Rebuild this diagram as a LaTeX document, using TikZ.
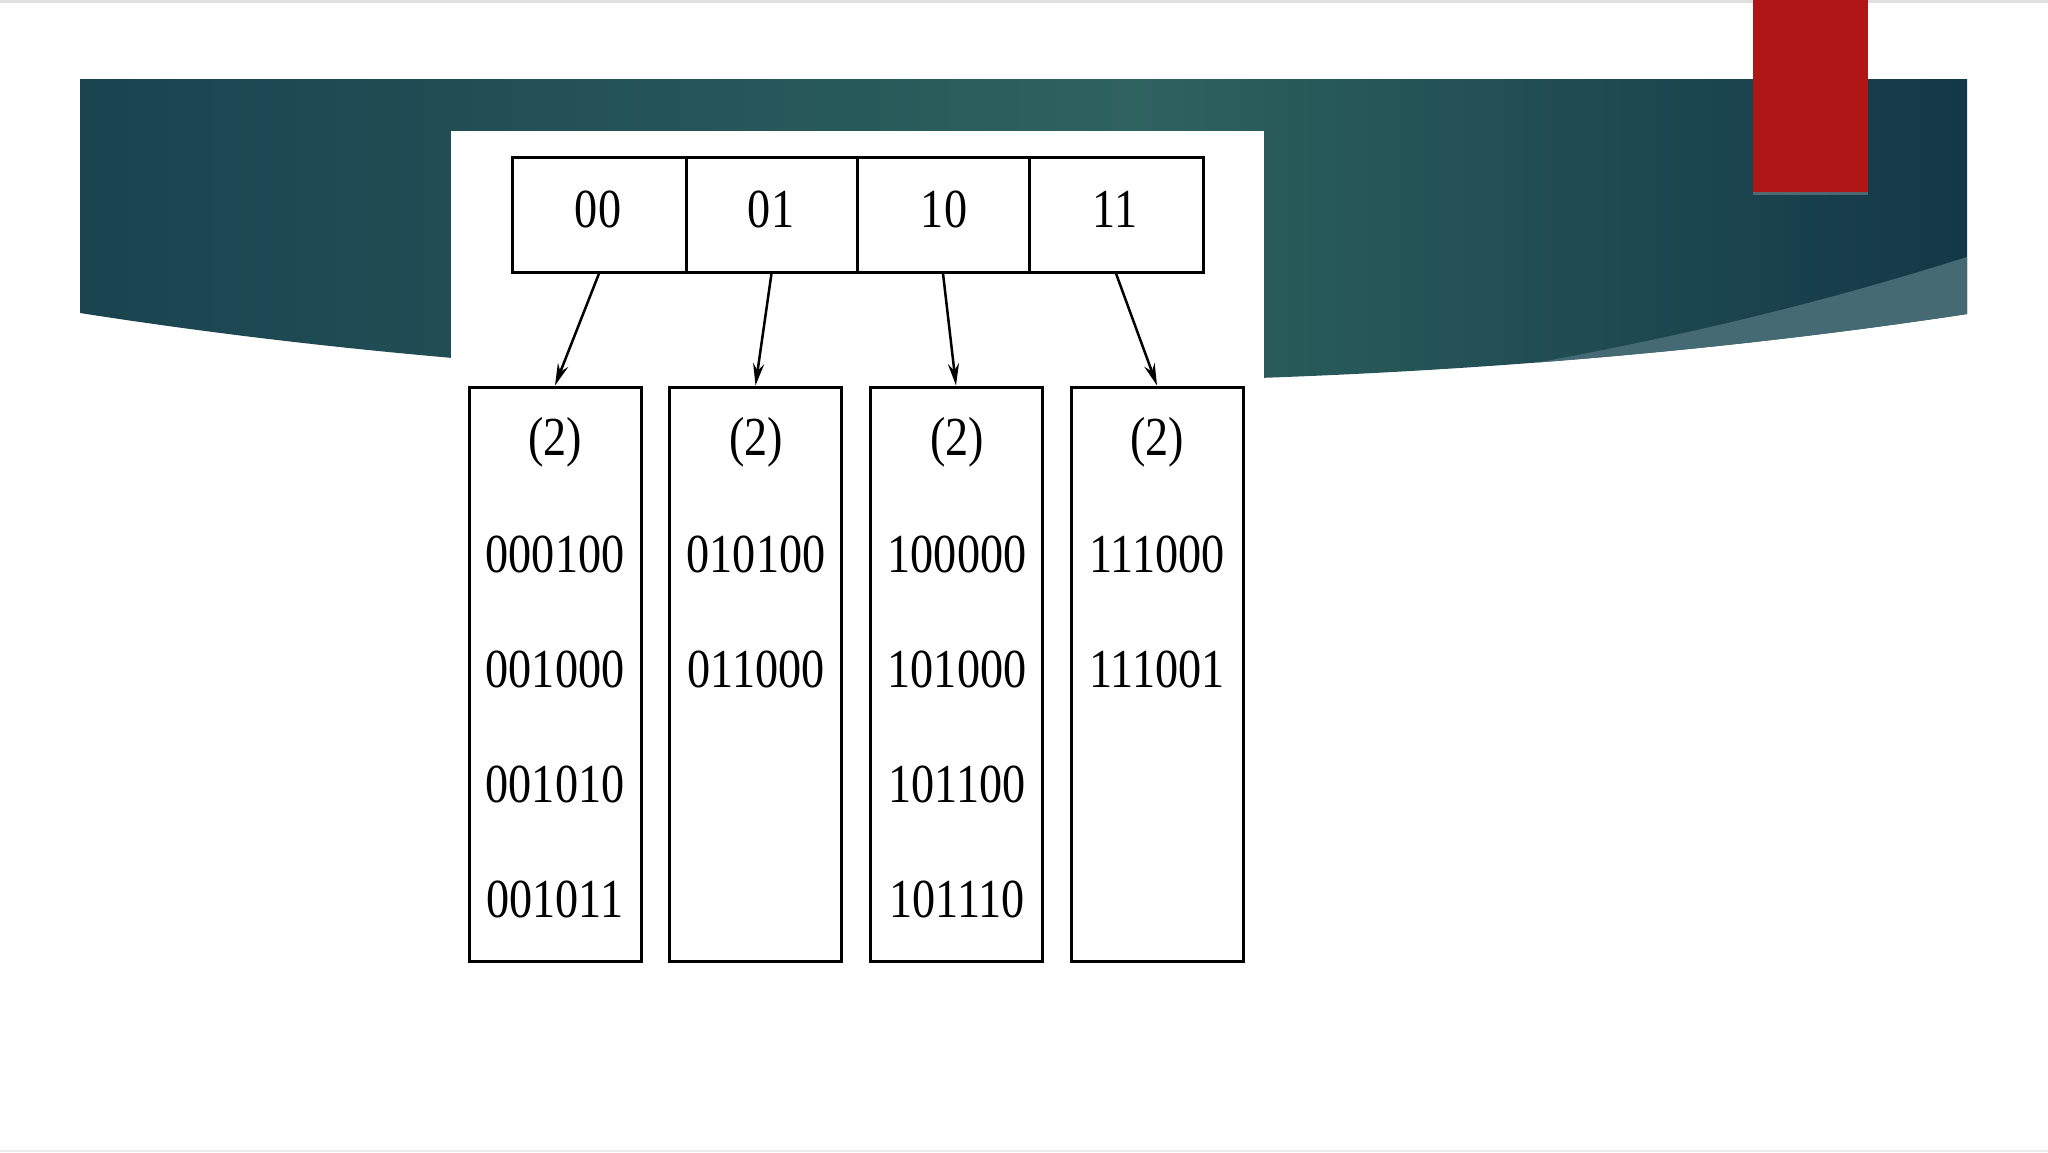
\documentclass[tikz,border=0pt]{standalone}
\usepackage{fontspec}
\setmainfont{Liberation Serif}
\newfontfamily\digfont[FakeStretch=0.84]{Liberation Serif}
\usetikzlibrary{arrows.meta}
\definecolor{bnL}{HTML}{1A4350}
\definecolor{bnM}{HTML}{2E625F}
\definecolor{bnR}{HTML}{133847}
\definecolor{bnBand}{HTML}{456A74}
\definecolor{redtab}{HTML}{B01616}
\pgfdeclarehorizontalshading{bannershade}{100bp}{color(0bp)=(bnL); color(25bp)=(bnL); color(53bp)=(bnM); color(75bp)=(bnR); color(100bp)=(bnR)}
\tikzset{
  cellbox/.style={draw=black, line width=3pt, minimum height=115pt, inner sep=0pt},
  bucketbox/.style={draw=black, line width=3pt, minimum width=172pt, minimum height=574pt, inner sep=0pt},
  entry/.style={inner sep=0pt, font=\digfont\fontsize{55}{60}\selectfont},
  ptr/.style={line width=2.5pt, -{Stealth[length=22pt,width=11pt]}}
}
\begin{document}
\begin{tikzpicture}[x=1pt,y=-1pt]
\useasboundingbox (0,0) rectangle (2048,1152);
\fill[white] (0,0) rectangle (2048,1152);
\fill[black!12] (0,0) rectangle (2048,2.5);
\fill[black!8] (0,1149.5) rectangle (2048,1152);
% banner
\begin{scope}
  \path[clip] (80,79) -- (1967,79) -- (1967,314) .. controls (1400,400) and (700,410) .. (80,313) -- cycle;
  \shade[shading=bannershade] (80,79) rectangle (1967,420);
  \fill[bnBand] (1967,257) .. controls (1760,322) and (1580,360) .. (1280,405) -- (2000,420) -- (2000,257) -- cycle;
\end{scope}
% red tab
\fill[black!35, opacity=0.4] (1753,0) rectangle (1868,195);
\fill[redtab] (1753,0) rectangle (1868,192);
% white picture area
\fill[white] (451,131) rectangle (1264,1000);
% directory cells
\node[cellbox, minimum width=174pt] (c1) at (599,214.5) {};
\node[cellbox, minimum width=171pt] (c2) at (771.5,214.5) {};
\node[cellbox, minimum width=172pt] (c3) at (943,214.5) {};
\node[cellbox, minimum width=174pt] (c4) at (1116,214.5) {};
\node[entry] (l1) at (598,209) {00};
\node[entry] (l2) at (771,209) {01};
\node[entry] (l3) at (944,209) {10};
\node[entry] (l4) at (1115,209) {11};
% buckets
\node[bucketbox] (b1) at (555,674) {};
\node[bucketbox] (b2) at (755.5,674) {};
\node[bucketbox] (b3) at (956,674) {};
\node[bucketbox] (b4) at (1157,674) {};
% bucket contents
\node[entry] (b1d) at (555,442) {(2)};
\node[entry] (b1a) at (555,554) {000100};
\node[entry] (b1b) at (555,669) {001000};
\node[entry] (b1c) at (555,784) {001010};
\node[entry] (b1e) at (555,899) {001011};
\node[entry] (b2d) at (756,442) {(2)};
\node[entry] (b2a) at (756,554) {010100};
\node[entry] (b2b) at (756,669) {011000};
\node[entry] (b3d) at (957,442) {(2)};
\node[entry] (b3a) at (957,554) {100000};
\node[entry] (b3b) at (957,669) {101000};
\node[entry] (b3c) at (957,784) {101100};
\node[entry] (b3e) at (957,899) {101110};
\node[entry] (b4d) at (1157,442) {(2)};
\node[entry] (b4a) at (1157,554) {111000};
\node[entry] (b4b) at (1157,669) {111001};
% pointers
\draw[ptr] (c1.south) -- (b1.north);
\draw[ptr] (c2.south) -- (b2.north);
\draw[ptr] (c3.south) -- (b3.north);
\draw[ptr] (c4.south) -- (b4.north);
\end{tikzpicture}
\end{document}
